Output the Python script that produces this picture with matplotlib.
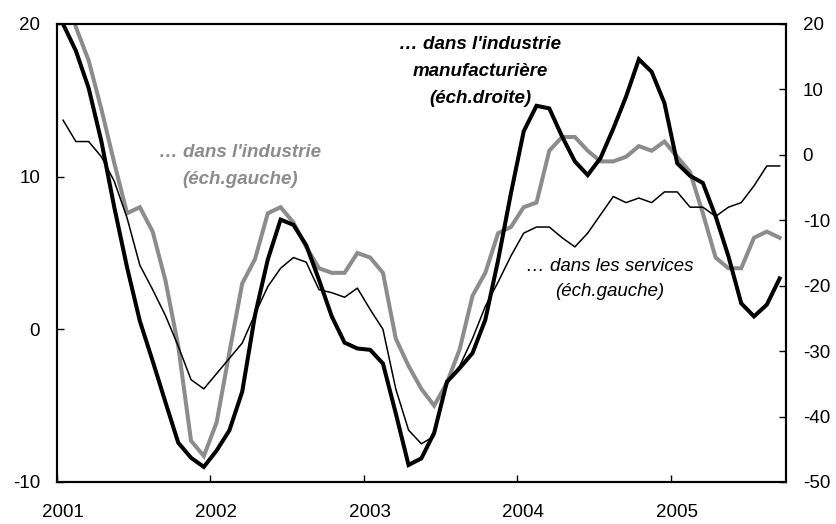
import matplotlib

matplotlib.use("Agg")
import matplotlib.pyplot as plt
import matplotlib.transforms as mtransforms
import numpy as np

plt.rcParams["font.family"] = ["Liberation Sans", "DejaVu Sans"]
plt.rcParams["axes.unicode_minus"] = False

# monthly values, Jan 2001 .. Sep 2005
years = ["2001", "2002", "2003", "2004", "2005"]

industrie = [23.0, 19.8, 17.6, 14.4, 10.9, 7.6, 8.0, 6.4, 3.2, -1.1,
             -7.3, -8.3, -6.1, -1.5, 3.0, 4.6, 7.6, 8.0, 7.0, 5.4,
             4.0, 3.7, 3.7, 5.0, 4.7, 3.7, -0.6, -2.4, -3.9, -5.0,
             -3.5, -1.3, 2.2, 3.7, 6.3, 6.7, 8.0, 8.3, 11.7, 12.6,
             12.6, 11.7, 11.0, 11.0, 11.3, 12.0, 11.7, 12.3, 11.3, 10.3,
             7.6, 4.7, 4.0, 4.0, 6.0, 6.4, 6.0]

services = [13.7, 12.3, 12.3, 11.3, 9.7, 7.3, 4.2, 2.6, 0.9, -1.1,
            -3.3, -3.9, -2.9, -1.9, -0.9, 1.0, 2.8, 4.0, 4.7, 4.4,
            2.6, 2.4, 2.1, 2.7, 1.3, 0.0, -3.9, -6.6, -7.5, -7.0,
            -3.5, -2.4, -0.6, 1.5, 3.1, 4.8, 6.3, 6.7, 6.7, 6.0,
            5.4, 6.3, 7.5, 8.7, 8.3, 8.6, 8.3, 9.0, 9.0, 8.0,
            8.0, 7.4, 8.0, 8.3, 9.4, 10.7, 10.7]

manuf = [20.0, 15.9, 10.2, 2.0, -8.0, -17.2, -25.4, -31.5, -37.8, -44.0,
         -46.3, -47.7, -45.2, -42.1, -36.2, -24.5, -16.0, -9.9, -10.7, -13.8,
         -19.1, -24.7, -28.7, -29.6, -29.8, -31.9, -39.5, -47.4, -46.4, -42.5,
         -34.7, -32.6, -30.3, -25.2, -16.1, -5.9, 3.6, 7.5, 7.1, 2.8,
         -1.0, -3.1, -0.5, 4.0, 8.9, 14.6, 12.7, 7.9, -1.3, -3.2,
         -4.3, -9.4, -15.5, -22.7, -24.7, -22.9, -18.9]

GREY = "#8c8c8c"
FS = 13.5

x = np.arange(len(industrie)) + 0.5

fig = plt.figure(figsize=(8.36, 5.24), dpi=100)
ax = fig.add_axes([0.0678, 0.0802, 0.8724, 0.874])
ax2 = ax.twinx()

ax.plot(x, industrie, color=GREY, lw=2.9, solid_joinstyle="miter")
ax.plot(x, services, color="black", lw=1.1)
ax2.plot(x, manuf, color="black", lw=2.9, solid_joinstyle="miter")

ax.set_xlim(0, 57)
ax.set_ylim(-10, 20)
ax2.set_ylim(-50, 20)
ax.set_yticks([-10, 0, 10, 20])
ax2.set_yticks(np.arange(-50, 21, 10))
ax.set_xticks(np.arange(len(years)) * 12)
ax.set_xticklabels(years)

for a in (ax, ax2):
    for s in a.spines.values():
        s.set_linewidth(1.5)
        s.set_color("black")
    a.tick_params(direction="in", length=5, width=1, labelsize=FS)
ax.tick_params(axis="y", pad=12)
ax2.tick_params(axis="y", pad=12)
ax.tick_params(axis="x", pad=16)

shift = mtransforms.ScaledTranslation(0.06, 0, fig.dpi_scale_trans)
for lab in ax.get_xticklabels():
    lab.set_transform(lab.get_transform() + shift)

ax.text(14.3, 10.7, "\u2026 dans l'industrie\n(éch.gauche)", color=GREY,
        fontsize=FS, fontweight="bold", fontstyle="italic",
        ha="center", va="center", linespacing=1.75)
ax.text(33.1, 16.9, "\u2026 dans l'industrie\nmanufacturière\n(éch.droite)",
        color="black", fontsize=FS, fontweight="bold", fontstyle="italic",
        ha="center", va="center", linespacing=1.75)
ax.text(43.2, 3.3, "\u2026 dans les services\n(éch.gauche)", color="black",
        fontsize=FS, fontstyle="italic", ha="center", va="center",
        linespacing=1.65)

fig.savefig("out.png", dpi=100)
